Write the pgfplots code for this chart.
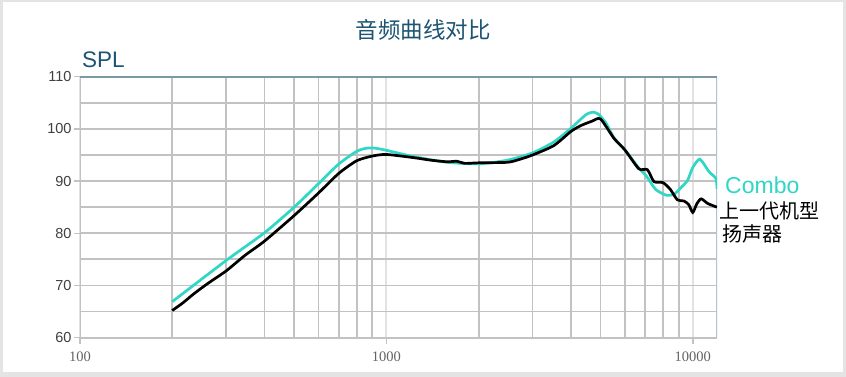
\documentclass[border=0pt]{standalone}
\usepackage{pgfplots}
\pgfplotsset{compat=1.18}
\usepackage{fontspec}
\setmainfont{Liberation Sans}
\newfontfamily\cjk{Noto Sans CJK SC}
\newfontfamily\serifx{Liberation Serif}
\definecolor{combo}{RGB}{48,214,198}
\definecolor{titleblue}{RGB}{28,84,114}
\definecolor{gridc}{RGB}{194,194,194}
\definecolor{gridlight}{RGB}{226,226,226}
\definecolor{topline}{RGB}{122,152,165}
\definecolor{rightline}{RGB}{172,196,208}
\definecolor{framec}{RGB}{228,228,228}
\definecolor{ylab}{RGB}{64,64,64}
\definecolor{xlab}{RGB}{100,100,100}
\begin{document}
\begin{tikzpicture}[x=1pt,y=1pt]
\useasboundingbox (0,0) rectangle (846,377);
\fill[framec] (0,0) rectangle (846,377);
\fill[white] (2.5,5.3) rectangle (843.3,375);
\begin{axis}[
  at={(80pt,39.3pt)}, anchor=south west,
  scale only axis, width=637pt, height=261pt,
  xmode=log, xmin=100, xmax=12000, ymin=60, ymax=110,
  xtick={100,1000,10000}, xticklabels={100,1000,10000},
  minor xtick={200,300,400,500,600,700,800,900,2000,3000,4000,5000,6000,7000,8000,9000},
  ytick={60,70,80,90,100,110}, minor ytick={65,75,85,95,105},
  grid=both,
  major x grid style={gridlight, line width=1.8pt},
  minor x grid style={gridc, line width=1.8pt},
  major y grid style={gridc, line width=1.8pt},
  minor y grid style={gridc, line width=1.8pt},
  axis line style={draw=none},
  tick align=outside, major tick length=6pt, minor tick length=0pt,
  major tick style={gridc, line width=1.5pt},
  xtick pos=bottom, ytick pos=left,
  /pgf/number format/assume math mode=true,
  yticklabel style={font=\fontsize{14.5}{14.5}\selectfont, text=ylab, xshift=1pt},
  xticklabel style={font=\serifx\fontsize{14.5}{14.5}\selectfont, text=xlab, yshift=-5pt},
]
\draw[gridc, line width=1.8pt] (rel axis cs:0,0) -- (rel axis cs:0,1);
\draw[gridc, line width=1.8pt] (rel axis cs:0,0) -- (rel axis cs:1,0);
\draw[rightline, line width=1.6pt] (rel axis cs:1,0) -- (rel axis cs:1,1);
\draw[topline, line width=2pt] (rel axis cs:0,1) -- (rel axis cs:1,1);
\addplot[combo, line width=2.7pt, smooth, tension=0.4] coordinates {
(200,66.9) (300,74.8) (400,80.1) (500,85.0) (600,89.5) (700,93.3) (800,95.7) (860,96.3) (920,96.3)
(1000,95.9) (1225,94.7) (1580,93.6) (2000,93.3) (2480,94.0) (3000,95.4) (3520,97.5) (4000,100.1)
(4300,101.8) (4500,102.8) (4700,103.2) (4900,102.9) (5200,101.2) (5530,98.3) (6000,96.0) (6670,92.5) (7050,91.0) (7570,88.4)
(8200,87.3) (8700,87.5) (9100,88.6) (9610,90.1) (10000,92.6) (10550,94.2) (11300,91.8) (11900,90.5) (12000,88.5)
};
\addplot[black, line width=2.7pt, smooth, tension=0.4] coordinates {
(200,65.2) (217,66.7) (234,68.3) (260,70.3) (300,72.8) (346,75.8) (400,78.5) (500,83.4) (600,87.7)
(700,91.5) (800,93.9) (900,94.8) (1000,95.1) (1225,94.5) (1400,94.0) (1580,93.7) (1700,93.8) (1800,93.4)
(2000,93.5) (2480,93.6) (2700,94.1) (3000,95.0) (3520,96.8) (4000,99.5) (4300,100.6) (4700,101.5) (5000,101.9)
(5530,98.2) (6000,96.0) (6670,92.35) (7110,92.2) (7475,89.9) (8000,89.7) (8450,88.4) (8910,86.4)
(9350,86.2) (9700,85.5) (10000,84.0) (10300,85.6) (10650,86.6) (11200,85.7) (12000,85.0)
};
\end{axis}
\node[anchor=center, text=titleblue, font=\cjk\fontsize{22.5}{22.5}\selectfont] at (423,347.3) {音频曲线对比};
\node[anchor=base west, inner sep=0pt, text=titleblue, font=\fontsize{22.5}{22.5}\selectfont] at (82,309.7) {SPL};
\node[anchor=base west, inner sep=0pt, text=combo, font=\fontsize{23}{23}\selectfont] at (725,183.7) {Combo};
\node[anchor=west, inner sep=0pt, font=\cjk\fontsize{20}{20}\selectfont] at (719,166.5) {上一代机型};
\node[anchor=west, inner sep=0pt, font=\cjk\fontsize{20}{20}\selectfont] at (722,142.8) {扬声器};
\end{tikzpicture}
\end{document}
